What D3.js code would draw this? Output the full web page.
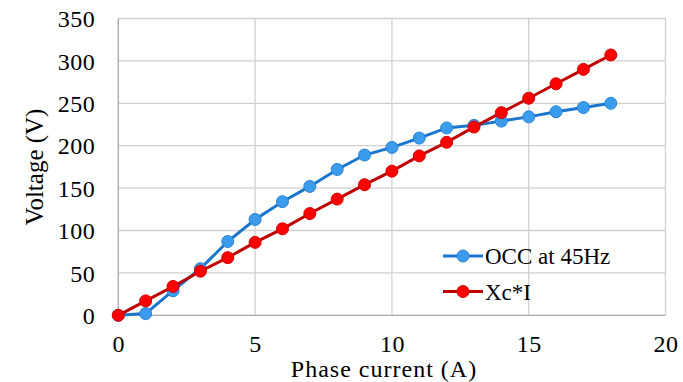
<!DOCTYPE html>
<html><head><meta charset="utf-8">
<script src="https://cdn.jsdelivr.net/npm/d3@7"></script>
<style>body{margin:0;background:#fff}svg{display:block}</style>
</head><body>
<svg id="c" width="683" height="382"></svg>
<script>
const current = [0,1,2,3,4,5,6,7,8,9,10,11,12,13,14,15,16,17,18];
const occ = [0,2,29,55,87,113,134,152,172,189,198,209,221,224,229,234,240,245,250];
const xcI = [0,17,34,52,68,86,102,120,137,154,170,188,204,222,239,256,273,290,307];
const xTicks = [0,5,10,15,20];
const yTicks = [0,50,100,150,200,250,300,350];
const seriesNames = ["OCC at 45Hz","Xc*I"];

const FONT = '"Liberation Serif","Times New Roman",serif';
const svg = d3.select("#c");
const x = d3.scaleLinear().domain([0,20]).range([118.3,665.5]);
const y = d3.scaleLinear().domain([0,350]).range([315.3,18.5]);

// grid
svg.append("g").selectAll("line").data(yTicks.slice(1)).join("line")
  .attr("x1",x(0)).attr("x2",x(20)).attr("y1",d=>y(d)).attr("y2",d=>y(d))
  .attr("stroke","#d0d0d0").attr("stroke-width",1.3);
svg.append("g").selectAll("line").data(xTicks.slice(1)).join("line")
  .attr("y1",y(0)).attr("y2",y(350)).attr("x1",d=>x(d)).attr("x2",d=>x(d))
  .attr("stroke","#d0d0d0").attr("stroke-width",1.3);
// axes lines
svg.append("line").attr("x1",x(0)).attr("x2",x(0)).attr("y1",y(0)).attr("y2",y(350)).attr("stroke","#a6a6a6").attr("stroke-width",1.3);
svg.append("line").attr("x1",x(0)).attr("x2",x(20)).attr("y1",y(0)).attr("y2",y(0)).attr("stroke","#a6a6a6").attr("stroke-width",1.3);

// tick labels via axes
const yAxis = svg.append("g").attr("transform",`translate(${x(0)},0)`)
  .call(d3.axisLeft(y).tickValues(yTicks).tickSize(0).tickPadding(23));
yAxis.select(".domain").remove();
yAxis.attr("font-family",null).attr("font-size",null);
yAxis.selectAll("text").style("font-family",FONT).style("font-size","24px").style("letter-spacing","0.5px").style("fill","#000").attr("dy","0.34em");
const xAxis = svg.append("g").attr("transform",`translate(0,${y(0)})`)
  .call(d3.axisBottom(x).tickValues(xTicks).tickSize(0).tickPadding(20));
xAxis.select(".domain").remove();
xAxis.attr("font-family",null).attr("font-size",null);
xAxis.selectAll("text").style("font-family",FONT).style("font-size","24px").style("letter-spacing","0.5px").style("fill","#000");

// titles
svg.append("text").attr("x",384).attr("y",376.5).attr("text-anchor","middle")
  .style("font-family",FONT).style("font-size","24px").style("letter-spacing","1px").text("Phase current (A)");
svg.append("text").attr("transform","translate(43,167) rotate(-90)").attr("text-anchor","middle")
  .style("font-family",FONT).style("font-size","25px").text("Voltage (V)");

const line = d3.line().x(d=>x(d[0])).y(d=>y(d[1]));
const series = [
  {name:seriesNames[0], vals:occ, line:"#1a75cc", fill:"#3b9cee", stroke:"#2a82d6"},
  {name:seriesNames[1], vals:xcI, line:"#c00000", fill:"#ff0000", stroke:"#d40000"}
];
series.forEach(s=>{
  const pts = current.map((c,i)=>[c,s.vals[i]]);
  svg.append("path").datum(pts).attr("d",line).attr("fill","none").attr("stroke",s.line).attr("stroke-width",3);
  svg.append("g").selectAll("circle").data(pts).join("circle")
    .attr("cx",d=>x(d[0])).attr("cy",d=>y(d[1])).attr("r",6)
    .attr("fill",s.fill).attr("stroke",s.stroke).attr("stroke-width",1);
});

// legend
const lg = svg.append("g");
series.forEach((s,i)=>{
  const ly = 256 + i*35.5;
  lg.append("line").attr("x1",443).attr("x2",483).attr("y1",ly).attr("y2",ly).attr("stroke",s.line).attr("stroke-width",3);
  lg.append("circle").attr("cx",463).attr("cy",ly).attr("r",6).attr("fill",s.fill).attr("stroke",s.stroke);
  lg.append("text").attr("x",485).attr("y",ly+8).style("font-family",FONT).style("font-size","23px").text(s.name);
});
</script>
</body></html>
